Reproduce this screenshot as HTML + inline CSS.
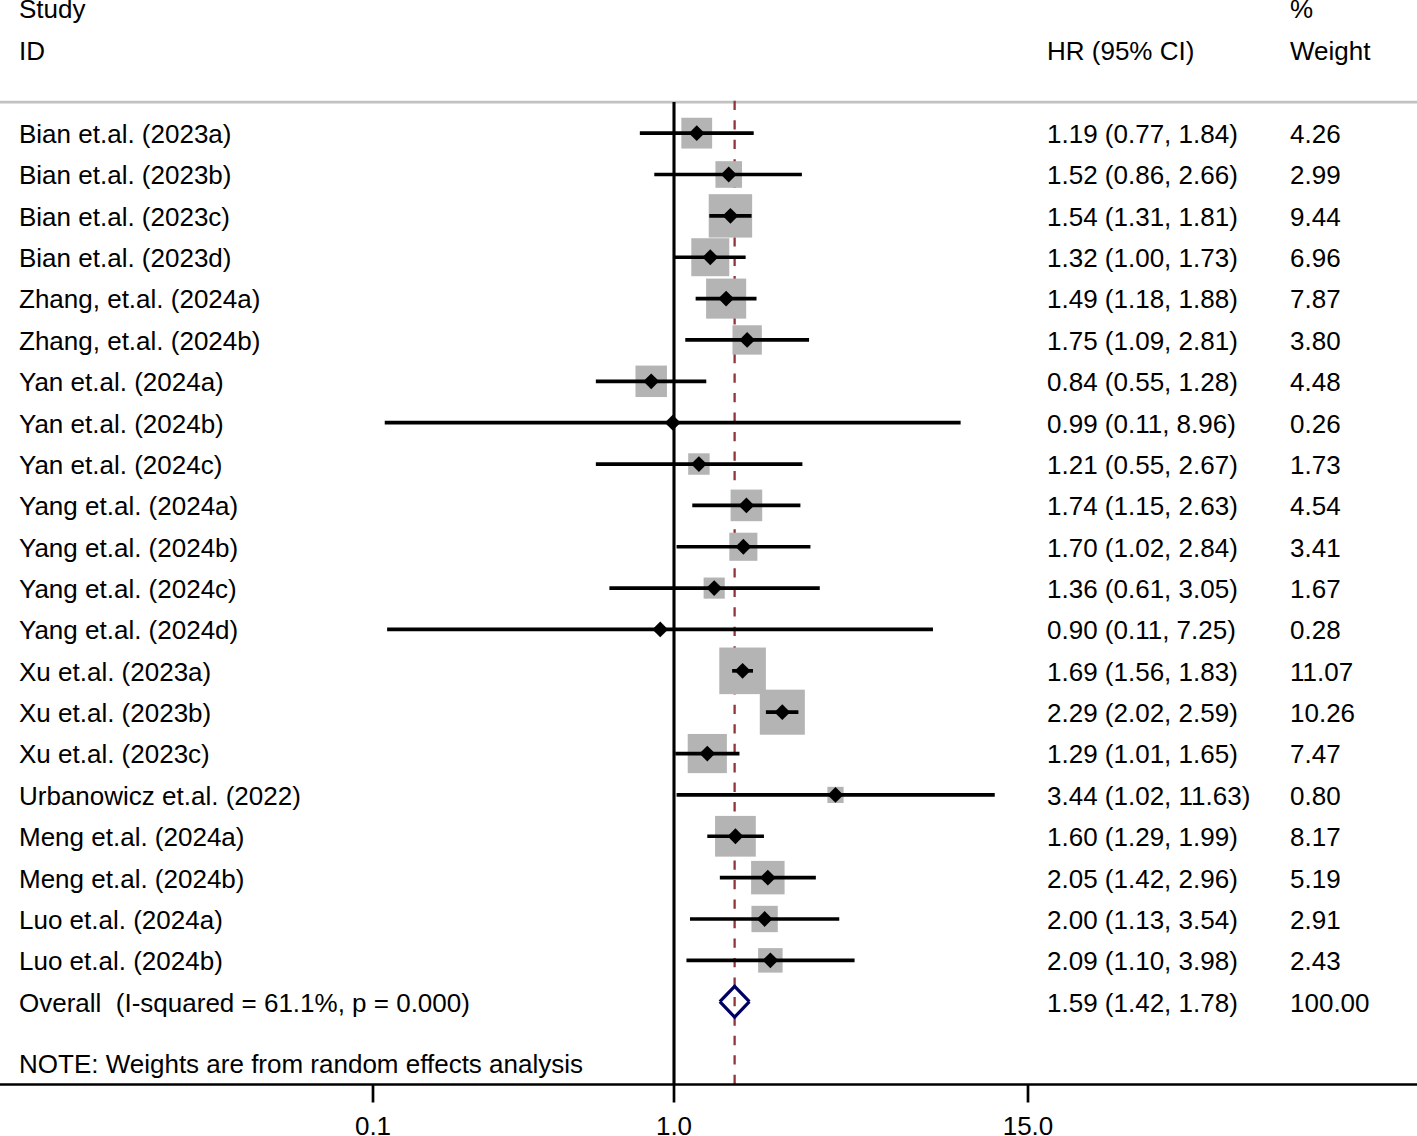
<!DOCTYPE html><html><head><meta charset="utf-8"><title>Forest plot</title>
<style>html,body{margin:0;padding:0;background:#fff}svg{display:block}text{font-family:"Liberation Sans",Arial,sans-serif;font-size:26px;fill:#000}</style></head><body>
<svg width="1417" height="1136" viewBox="0 0 1417 1136">
<rect width="1417" height="1136" fill="#fff"/>
<text x="19" y="18">Study</text>
<text x="19" y="60">ID</text>
<text x="1047" y="60">HR (95% CI)</text>
<text x="1290" y="18">%</text>
<text x="1290" y="60">Weight</text>
<line x1="0" y1="102.2" x2="1417" y2="102.2" stroke="#c2c2c2" stroke-width="2.7"/>
<line x1="734.62" y1="100.8" x2="734.62" y2="1084.5" stroke="#90353b" stroke-width="2.3" stroke-dasharray="9.3 10.18"/>
<rect x="681.34" y="117.75" width="30.80" height="30.80" fill="#b4b4b4"/>
<rect x="715.43" y="161.20" width="26.61" height="26.61" fill="#b4b4b4"/>
<rect x="708.74" y="194.17" width="43.41" height="43.41" fill="#b4b4b4"/>
<rect x="691.30" y="238.24" width="37.98" height="37.98" fill="#b4b4b4"/>
<rect x="706.10" y="278.56" width="40.07" height="40.07" fill="#b4b4b4"/>
<rect x="732.47" y="325.27" width="29.37" height="29.37" fill="#b4b4b4"/>
<rect x="635.48" y="365.58" width="31.46" height="31.46" fill="#b4b4b4"/>
<rect x="669.19" y="419.17" width="7.00" height="7.00" fill="#b4b4b4"/>
<rect x="688.20" y="453.31" width="21.44" height="21.44" fill="#b4b4b4"/>
<rect x="730.59" y="489.57" width="31.63" height="31.63" fill="#b4b4b4"/>
<rect x="729.32" y="532.71" width="28.08" height="28.08" fill="#b4b4b4"/>
<rect x="703.62" y="577.53" width="21.15" height="21.15" fill="#b4b4b4"/>
<rect x="656.73" y="625.97" width="7.00" height="7.00" fill="#b4b4b4"/>
<rect x="719.30" y="647.54" width="46.59" height="46.59" fill="#b4b4b4"/>
<rect x="759.79" y="689.67" width="45.04" height="45.04" fill="#b4b4b4"/>
<rect x="687.71" y="733.97" width="39.16" height="39.16" fill="#b4b4b4"/>
<rect x="827.41" y="786.82" width="16.18" height="16.18" fill="#b4b4b4"/>
<rect x="715.08" y="815.91" width="40.73" height="40.73" fill="#b4b4b4"/>
<rect x="751.10" y="860.89" width="33.48" height="33.48" fill="#b4b4b4"/>
<rect x="751.45" y="905.83" width="26.32" height="26.32" fill="#b4b4b4"/>
<rect x="758.12" y="948.11" width="24.49" height="24.49" fill="#b4b4b4"/>
<line x1="674.0" y1="101.9" x2="674.0" y2="1084.5" stroke="#000" stroke-width="3.1"/>
<line x1="639.83" y1="133.15" x2="753.71" y2="133.15" stroke="#000" stroke-width="3.7"/>
<path d="M688.84 133.15L696.74 125.25L704.64 133.15L696.74 141.05Z" fill="#000"/>
<text x="19" y="143.0">Bian et.al. (2023a)</text>
<text x="1047" y="143.0">1.19 (0.77, 1.84)</text>
<text x="1290" y="143.0">4.26</text>
<line x1="654.28" y1="174.51" x2="801.89" y2="174.51" stroke="#000" stroke-width="3.7"/>
<path d="M720.83 174.51L728.73 166.61L736.63 174.51L728.73 182.41Z" fill="#000"/>
<text x="19" y="184.4">Bian et.al. (2023b)</text>
<text x="1047" y="184.4">1.52 (0.86, 2.66)</text>
<text x="1290" y="184.4">2.99</text>
<line x1="709.30" y1="215.87" x2="751.56" y2="215.87" stroke="#000" stroke-width="3.7"/>
<path d="M722.54 215.87L730.44 207.97L738.34 215.87L730.44 223.77Z" fill="#000"/>
<text x="19" y="225.7">Bian et.al. (2023c)</text>
<text x="1047" y="225.7">1.54 (1.31, 1.81)</text>
<text x="1290" y="225.7">9.44</text>
<line x1="674.00" y1="257.23" x2="745.65" y2="257.23" stroke="#000" stroke-width="3.7"/>
<path d="M702.39 257.23L710.29 249.33L718.19 257.23L710.29 265.13Z" fill="#000"/>
<text x="19" y="267.1">Bian et.al. (2023d)</text>
<text x="1047" y="267.1">1.32 (1.00, 1.73)</text>
<text x="1290" y="267.1">6.96</text>
<line x1="695.64" y1="298.59" x2="756.52" y2="298.59" stroke="#000" stroke-width="3.7"/>
<path d="M718.23 298.59L726.13 290.69L734.03 298.59L726.13 306.49Z" fill="#000"/>
<text x="19" y="308.4">Zhang, et.al. (2024a)</text>
<text x="1047" y="308.4">1.49 (1.18, 1.88)</text>
<text x="1290" y="308.4">7.87</text>
<line x1="685.27" y1="339.95" x2="809.06" y2="339.95" stroke="#000" stroke-width="3.7"/>
<path d="M739.25 339.95L747.15 332.05L755.05 339.95L747.15 347.85Z" fill="#000"/>
<text x="19" y="349.8">Zhang, et.al. (2024b)</text>
<text x="1047" y="349.8">1.75 (1.09, 2.81)</text>
<text x="1290" y="349.8">3.80</text>
<line x1="595.85" y1="381.31" x2="706.27" y2="381.31" stroke="#000" stroke-width="3.7"/>
<path d="M643.31 381.31L651.21 373.41L659.11 381.31L651.21 389.21Z" fill="#000"/>
<text x="19" y="391.2">Yan et.al. (2024a)</text>
<text x="1047" y="391.2">0.84 (0.55, 1.28)</text>
<text x="1290" y="391.2">4.48</text>
<line x1="384.74" y1="422.67" x2="960.64" y2="422.67" stroke="#000" stroke-width="3.7"/>
<path d="M664.79 422.67L672.69 414.77L680.59 422.67L672.69 430.57Z" fill="#000"/>
<text x="19" y="432.5">Yan et.al. (2024b)</text>
<text x="1047" y="432.5">0.99 (0.11, 8.96)</text>
<text x="1290" y="432.5">0.26</text>
<line x1="595.85" y1="464.03" x2="802.38" y2="464.03" stroke="#000" stroke-width="3.7"/>
<path d="M691.02 464.03L698.92 456.13L706.82 464.03L698.92 471.93Z" fill="#000"/>
<text x="19" y="473.9">Yan et.al. (2024c)</text>
<text x="1047" y="473.9">1.21 (0.55, 2.67)</text>
<text x="1290" y="473.9">1.73</text>
<line x1="692.27" y1="505.39" x2="800.41" y2="505.39" stroke="#000" stroke-width="3.7"/>
<path d="M738.51 505.39L746.41 497.49L754.31 505.39L746.41 513.29Z" fill="#000"/>
<text x="19" y="515.2">Yang et.al. (2024a)</text>
<text x="1047" y="515.2">1.74 (1.15, 2.63)</text>
<text x="1290" y="515.2">4.54</text>
<line x1="676.59" y1="546.75" x2="810.45" y2="546.75" stroke="#000" stroke-width="3.7"/>
<path d="M735.47 546.75L743.37 538.85L751.27 546.75L743.37 554.65Z" fill="#000"/>
<text x="19" y="556.6">Yang et.al. (2024b)</text>
<text x="1047" y="556.6">1.70 (1.02, 2.84)</text>
<text x="1290" y="556.6">3.41</text>
<line x1="609.38" y1="588.11" x2="819.77" y2="588.11" stroke="#000" stroke-width="3.7"/>
<path d="M706.30 588.11L714.20 580.21L722.10 588.11L714.20 596.01Z" fill="#000"/>
<text x="19" y="598.0">Yang et.al. (2024c)</text>
<text x="1047" y="598.0">1.36 (0.61, 3.05)</text>
<text x="1290" y="598.0">1.67</text>
<line x1="387.11" y1="629.47" x2="932.96" y2="629.47" stroke="#000" stroke-width="3.7"/>
<path d="M652.33 629.47L660.23 621.57L668.13 629.47L660.23 637.37Z" fill="#000"/>
<text x="19" y="639.3">Yang et.al. (2024d)</text>
<text x="1047" y="639.3">0.90 (0.11, 7.25)</text>
<text x="1290" y="639.3">0.28</text>
<line x1="732.13" y1="670.83" x2="753.00" y2="670.83" stroke="#000" stroke-width="3.7"/>
<path d="M734.69 670.83L742.59 662.93L750.49 670.83L742.59 678.73Z" fill="#000"/>
<text x="19" y="680.7">Xu et.al. (2023a)</text>
<text x="1047" y="680.7">1.69 (1.56, 1.83)</text>
<text x="1290" y="680.7">11.07</text>
<line x1="765.91" y1="712.19" x2="798.40" y2="712.19" stroke="#000" stroke-width="3.7"/>
<path d="M774.41 712.19L782.31 704.29L790.21 712.19L782.31 720.09Z" fill="#000"/>
<text x="19" y="722.0">Xu et.al. (2023b)</text>
<text x="1047" y="722.0">2.29 (2.02, 2.59)</text>
<text x="1290" y="722.0">10.26</text>
<line x1="675.30" y1="753.55" x2="739.46" y2="753.55" stroke="#000" stroke-width="3.7"/>
<path d="M699.39 753.55L707.29 745.65L715.19 753.55L707.29 761.45Z" fill="#000"/>
<text x="19" y="763.4">Xu et.al. (2023c)</text>
<text x="1047" y="763.4">1.29 (1.01, 1.65)</text>
<text x="1290" y="763.4">7.47</text>
<line x1="676.59" y1="794.91" x2="994.74" y2="794.91" stroke="#000" stroke-width="3.7"/>
<path d="M827.60 794.91L835.50 787.01L843.40 794.91L835.50 802.81Z" fill="#000"/>
<text x="19" y="804.8">Urbanowicz et.al. (2022)</text>
<text x="1047" y="804.8">3.44 (1.02, 11.63)</text>
<text x="1290" y="804.8">0.80</text>
<line x1="707.29" y1="836.27" x2="763.95" y2="836.27" stroke="#000" stroke-width="3.7"/>
<path d="M727.54 836.27L735.44 828.37L743.34 836.27L735.44 844.17Z" fill="#000"/>
<text x="19" y="846.1">Meng et.al. (2024a)</text>
<text x="1047" y="846.1">1.60 (1.29, 1.99)</text>
<text x="1290" y="846.1">8.17</text>
<line x1="719.84" y1="877.63" x2="815.86" y2="877.63" stroke="#000" stroke-width="3.7"/>
<path d="M759.94 877.63L767.84 869.73L775.74 877.63L767.84 885.53Z" fill="#000"/>
<text x="19" y="887.5">Meng et.al. (2024b)</text>
<text x="1047" y="887.5">2.05 (1.42, 2.96)</text>
<text x="1290" y="887.5">5.19</text>
<line x1="689.98" y1="918.99" x2="839.25" y2="918.99" stroke="#000" stroke-width="3.7"/>
<path d="M756.71 918.99L764.61 911.09L772.51 918.99L764.61 926.89Z" fill="#000"/>
<text x="19" y="928.8">Luo et.al. (2024a)</text>
<text x="1047" y="928.8">2.00 (1.13, 3.54)</text>
<text x="1290" y="928.8">2.91</text>
<line x1="686.46" y1="960.35" x2="854.56" y2="960.35" stroke="#000" stroke-width="3.7"/>
<path d="M762.46 960.35L770.36 952.45L778.26 960.35L770.36 968.25Z" fill="#000"/>
<text x="19" y="970.2">Luo et.al. (2024b)</text>
<text x="1047" y="970.2">2.09 (1.10, 3.98)</text>
<text x="1290" y="970.2">2.43</text>
<path d="M719.84 1001.71L734.62 986.31L749.38 1001.71M719.84 1001.71L734.62 1017.11L749.38 1001.71" fill="none" stroke="#000064" stroke-width="3.2" stroke-linejoin="miter" stroke-linecap="butt"/>
<text x="19" y="1011.6" xml:space="preserve">Overall  (I-squared = 61.1%, p = 0.000)</text>
<text x="1047" y="1011.6">1.59 (1.42, 1.78)</text>
<text x="1290" y="1011.6">100.00</text>
<text x="19" y="1073">NOTE: Weights are from random effects analysis</text>
<line x1="0" y1="1084.5" x2="1417" y2="1084.5" stroke="#000" stroke-width="2.7"/>
<line x1="373.0" y1="1084.5" x2="373.0" y2="1102.5" stroke="#000" stroke-width="2.7"/>
<text x="373.0" y="1135" text-anchor="middle">0.1</text>
<line x1="674.0" y1="1084.5" x2="674.0" y2="1102.5" stroke="#000" stroke-width="2.7"/>
<text x="674.0" y="1135" text-anchor="middle">1.0</text>
<line x1="1028.0" y1="1084.5" x2="1028.0" y2="1102.5" stroke="#000" stroke-width="2.7"/>
<text x="1028.0" y="1135" text-anchor="middle">15.0</text>
</svg></body></html>
